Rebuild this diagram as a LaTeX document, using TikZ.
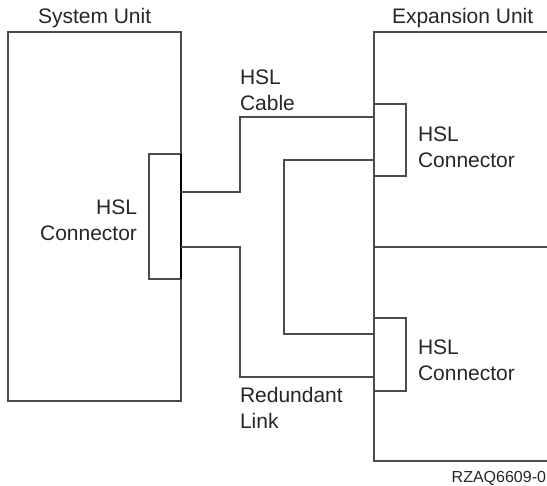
\documentclass[tikz,border=0pt]{standalone}
\usepackage{fontspec}
\setmainfont{Liberation Sans}
\begin{document}
\begin{tikzpicture}[x=1pt,y=-1pt,
  line/.style={draw=black!70,line width=1.1pt},
  box/.style={line,rectangle,inner sep=0pt,outer sep=0pt},
  lbl/.style={inner sep=0pt,outer sep=0pt,font=\fontsize{21}{26}\selectfont,text=black!85},
  small/.style={inner sep=0pt,outer sep=0pt,font=\fontsize{16}{19}\selectfont,text=black!85}]
\useasboundingbox (0,0) rectangle (547,486);
% units
\node[box,minimum width=173pt,minimum height=369pt] (sys) at (94.5,216.5) {};
\coordinate (etl) at (547,32);
\coordinate (ebl) at (547,461);
\coordinate (eml) at (547,247);
\draw[line] (etl) -- (374,32) coordinate (exptop) -- (374,461) coordinate (expbot) -- (ebl);
\draw[line] (374,247) coordinate (expmid) -- (eml);
% connectors
\node[box,fill=white,minimum width=32pt,minimum height=125pt] (syscon) at (165,216.5) {};
\draw[black,line width=1.6pt] (syscon.north east) -- (syscon.south east);
\node[box,fill=white,minimum width=32pt,minimum height=72pt] (ec1) at (390,140) {};
\node[box,fill=white,minimum width=32pt,minimum height=73pt] (ec2) at (390,354.5) {};
% cables
\draw[line] ([yshift=24.5pt]syscon.east) -| (240,117) -- ([yshift=23pt]ec1.west);
\draw[line] ([yshift=-30.5pt]syscon.east) -| (240,377) -- ([yshift=-22.5pt]ec2.west);
\draw[line] ([yshift=-20pt]ec1.west) -| (284,334) -- ([yshift=20.5pt]ec2.west);
% labels
\node[lbl,anchor=north west] (tsys) at (38,8) {System Unit};
\node[lbl,anchor=north west] (texp) at (392,8) {Expansion Unit};
\node[lbl,anchor=north west,align=left] (tcable) at (240,70) {HSL\\Cable};
\node[lbl,anchor=north east,align=right] (tsyscon) at (137,200) {HSL\\Connector};
\node[lbl,anchor=north west,align=left] (tec1) at (418,127) {HSL\\Connector};
\node[lbl,anchor=north west,align=left] (tec2) at (418,340) {HSL\\Connector};
\node[lbl,anchor=north west,align=left] (tred) at (240,387) {Redundant\\Link};
\node[small,anchor=north east] (tid) at (546,471) {RZAQ6609-0};
\end{tikzpicture}
\end{document}
